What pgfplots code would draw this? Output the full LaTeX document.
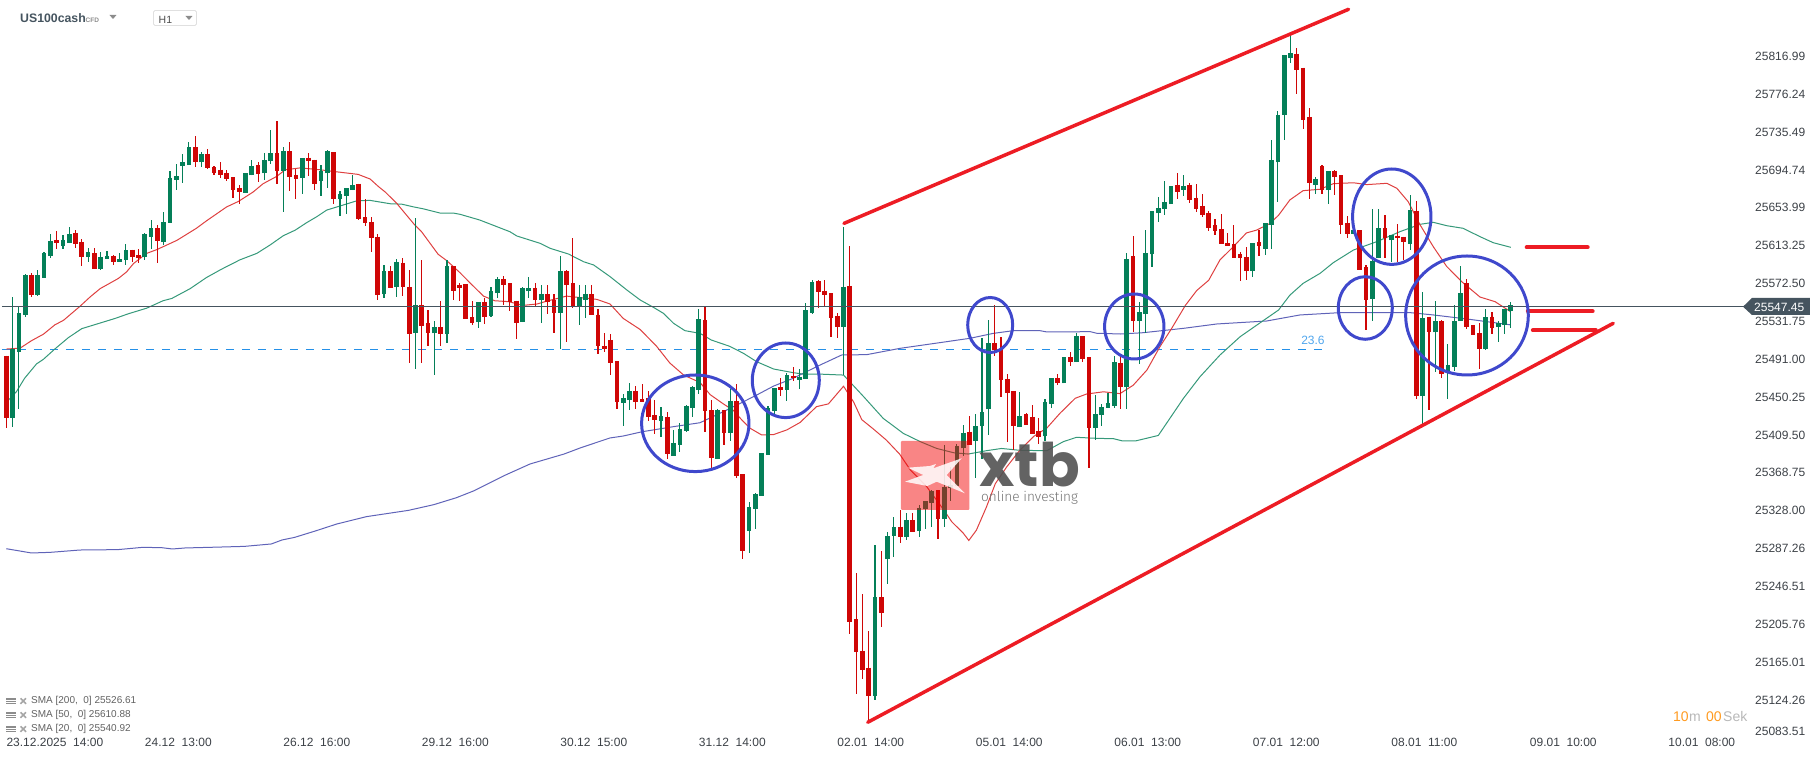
\documentclass[border=0pt]{standalone}
\usepackage{fontspec}
\setmainfont{Liberation Sans}
\usepackage{pgfplots}
\usepackage{pgfplotstable}
\pgfplotsset{compat=1.18}

\definecolor{cgreen}{HTML}{047F58}
\definecolor{cred}{HTML}{CF0606}
\definecolor{ma20}{HTML}{DE4040}
\definecolor{ma50}{HTML}{36997A}
\definecolor{ma200}{HTML}{5F63B8}
\definecolor{circ}{HTML}{3F48CC}
\definecolor{trend}{HTML}{ED1C24}
\definecolor{slate}{HTML}{45545F}
\definecolor{lbl}{HTML}{3C4147}
\definecolor{fib}{HTML}{2490E8}
\definecolor{timer}{HTML}{FF9A1F}

% i open high low close
\pgfplotstableread{
i o h l c
0 25495 25495 25417 25428
1 25428 25558 25418 25502
2 25499 25548 25437 25541
3 25539 25583 25536 25582
4 25582 25584 25558 25560
5 25560 25587 25559 25582
6 25579 25606 25579 25605
7 25602 25626 25600 25618
8 25619 25629 25610 25616
9 25613 25625 25610 25619
10 25616 25633 25616 25626
11 25627 25630 25611 25615
12 25617 25620 25591 25601
13 25601 25611 25596 25606
14 25605 25611 25588 25588
15 25588 25607 25587 25601
16 25599 25608 25599 25602
17 25602 25603 25593 25596
18 25596 25605 25596 25599
19 25598 25615 25592 25609
20 25609 25609 25596 25601
21 25603 25610 25595 25600
22 25601 25627 25598 25626
23 25623 25641 25610 25632
24 25632 25635 25595 25618
25 25617 25649 25614 25639
26 25638 25694 25638 25686
27 25684 25701 25673 25688
28 25699 25712 25681 25703
29 25700 25725 25700 25719
30 25719 25731 25698 25703
31 25703 25714 25698 25712
32 25712 25717 25696 25697
33 25698 25699 25689 25692
34 25695 25703 25686 25689
35 25691 25695 25683 25685
36 25687 25687 25665 25673
37 25675 25679 25658 25671
38 25670 25692 25670 25692
39 25689 25705 25689 25699
40 25700 25703 25682 25690
41 25691 25713 25684 25705
42 25704 25738 25701 25713
43 25713 25748 25680 25694
44 25694 25720 25649 25715
45 25715 25725 25672 25687
46 25689 25696 25663 25685
47 25686 25708 25669 25708
48 25708 25713 25688 25704
49 25706 25706 25673 25680
50 25683 25700 25667 25694
51 25691 25716 25675 25715
52 25714 25714 25658 25663
53 25663 25672 25645 25669
54 25667 25675 25647 25675
55 25673 25689 25673 25679
56 25680 25680 25641 25642
57 25644 25664 25634 25638
58 25639 25644 25607 25621
59 25623 25626 25555 25560
60 25561 25592 25557 25586
61 25586 25591 25568 25568
62 25569 25599 25558 25596
63 25595 25600 25559 25569
64 25569 25587 25487 25518
65 25519 25643 25481 25549
66 25549 25598 25487 25527
67 25530 25544 25505 25519
68 25519 25532 25474 25526
69 25526 25554 25505 25518
70 25518 25598 25508 25591
71 25591 25591 25555 25565
72 25571 25573 25554 25568
73 25572 25572 25534 25534
74 25536 25554 25528 25530
75 25531 25553 25525 25553
76 25553 25557 25529 25537
77 25538 25569 25536 25564
78 25562 25580 25557 25577
79 25577 25581 25549 25571
80 25573 25573 25543 25553
81 25554 25554 25513 25530
82 25531 25569 25531 25568
83 25564 25580 25557 25568
84 25568 25573 25548 25555
85 25555 25571 25530 25561
86 25561 25571 25540 25553
87 25555 25561 25519 25541
88 25541 25602 25502 25586
89 25586 25587 25510 25571
90 25573 25622 25546 25548
91 25548 25571 25528 25558
92 25555 25571 25535 25561
93 25561 25571 25539 25539
94 25539 25545 25497 25505
95 25505 25519 25499 25502
96 25512 25518 25474 25487
97 25489 25489 25437 25445
98 25444 25454 25419 25449
99 25447 25465 25436 25457
100 25457 25462 25437 25445
101 25448 25464 25445 25445
102 25449 25457 25425 25429
103 25431 25447 25411 25426
104 25425 25440 25407 25430
105 25429 25434 25384 25389
106 25387 25415 25387 25401
107 25399 25422 25391 25416
108 25414 25442 25413 25441
109 25439 25462 25429 25461
110 25458 25545 25454 25534
111 25533 25547 25413 25435
112 25436 25447 25374 25385
113 25384 25437 25384 25436
114 25436 25436 25399 25412
115 25412 25459 25403 25446
116 25446 25464 25363 25365
117 25367 25367 25276 25285
118 25306 25337 25283 25332
119 25330 25347 25308 25346
120 25344 25390 25344 25390
121 25388 25441 25388 25439
122 25435 25460 25432 25460
123 25461 25471 25451 25458
124 25458 25476 25446 25474
125 25473 25483 25468 25471
126 25469 25481 25459 25472
127 25470 25552 25470 25544
128 25541 25576 25540 25574
129 25575 25576 25546 25563
130 25565 25576 25548 25560
131 25562 25562 25515 25535
132 25538 25541 25514 25526
133 25526 25633 25474 25569
134 25570 25613 25195 25208
135 25211 25261 25131 25176
136 25177 25238 25147 25157
137 25159 25198 25100 25129
138 25129 25291 25124 25235
139 25235 25285 25203 25218
140 25276 25305 25249 25301
141 25301 25321 25278 25310
142 25311 25329 25293 25300
143 25300 25326 25296 25318
144 25318 25326 25305 25305
145 25306 25334 25300 25331
146 25330 25338 25308 25338
147 25336 25350 25311 25349
148 25350 25350 25298 25319
149 25319 25399 25311 25354
150 25352 25375 25338 25356
151 25355 25400 25355 25398
152 25395 25420 25387 25412
153 25413 25430 25399 25399
154 25403 25432 25363 25419
155 25419 25514 25384 25434
156 25437 25533 25409 25508
157 25508 25549 25495 25501
158 25502 25515 25450 25469
159 25470 25475 25402 25455
160 25457 25457 25393 25419
161 25418 25456 25418 25430
162 25432 25433 25420 25420
163 25429 25442 25411 25411
164 25414 25428 25400 25407
165 25408 25448 25403 25445
166 25443 25471 25439 25471
167 25471 25475 25463 25465
168 25465 25493 25465 25493
169 25493 25499 25484 25488
170 25488 25519 25488 25516
171 25516 25516 25488 25491
172 25493 25493 25374 25417
173 25417 25453 25404 25432
174 25431 25443 25419 25440
175 25439 25455 25439 25444
176 25441 25495 25439 25488
177 25487 25497 25437 25461
178 25461 25605 25438 25599
179 25602 25624 25520 25532
180 25532 25553 25486 25542
181 25540 25630 25519 25605
182 25604 25651 25590 25651
183 25648 25666 25639 25654
184 25653 25683 25646 25660
185 25658 25678 25658 25678
186 25679 25692 25664 25671
187 25673 25689 25667 25678
188 25679 25681 25659 25662
189 25665 25680 25650 25653
190 25656 25669 25644 25646
191 25648 25651 25629 25632
192 25635 25642 25625 25629
193 25631 25647 25615 25615
194 25616 25627 25613 25613
195 25615 25636 25600 25600
196 25604 25607 25575 25600
197 25601 25612 25576 25586
198 25586 25616 25580 25616
199 25617 25630 25602 25613
200 25610 25638 25603 25638
201 25636 25727 25610 25706
202 25703 25758 25660 25754
203 25754 25819 25727 25819
204 25815 25843 25810 25821
205 25820 25826 25776 25802
206 25805 25805 25739 25749
207 25752 25762 25664 25681
208 25679 25687 25669 25685
209 25699 25700 25669 25673
210 25673 25694 25658 25694
211 25694 25695 25668 25687
212 25689 25689 25626 25636
213 25638 25645 25621 25626
214 25626 25635 25626 25630
215 25630 25630 25587 25587
216 25590 25593 25523 25555
217 25556 25653 25532 25597
218 25600 25653 25600 25632
219 25632 25646 25600 25621
220 25619 25625 25596 25625
221 25624 25637 25596 25621
222 25623 25623 25598 25617
223 25615 25668 25609 25652
224 25651 25661 25448 25452
225 25452 25563 25421 25535
226 25537 25537 25436 25520
227 25520 25554 25477 25532
228 25532 25533 25471 25475
229 25478 25507 25448 25485
230 25483 25549 25478 25532
231 25532 25591 25532 25562
232 25573 25577 25524 25526
233 25528 25528 25517 25517
234 25519 25530 25480 25502
235 25502 25545 25501 25537
236 25537 25542 25518 25525
237 25526 25532 25510 25530
238 25528 25545 25518 25545
239 25543 25553 25525 25549
}\candles

\begin{document}
\begin{tikzpicture}
\begin{axis}[
    scale only axis,
    width=1815pt,
    height=761pt,
    xmin=-1.0008, xmax=287.32,
    ymin=25058.61, ymax=25877.72,
    scaled x ticks=false,
    scaled y ticks=false,
    axis line style={draw=none},
    tick style={draw=none},
    major tick length=0pt,
    xtick={0,22,44,66,88,110,132,154,176,198,220,242,264},
    xticklabels={23.12.2025\ \ 14:00,24.12\ \ 13:00,26.12\ \ 16:00,29.12\ \ 16:00,30.12\ \ 15:00,31.12\ \ 14:00,02.01\ \ 14:00,05.01\ \ 14:00,06.01\ \ 13:00,07.01\ \ 12:00,08.01\ \ 11:00,09.01\ \ 10:00,10.01\ \ 08:00},
    ytick={25816.99,25776.24,25735.49,25694.74,25653.99,25613.25,25572.50,25531.75,25491.00,25450.25,25409.50,25368.75,25328.00,25287.26,25246.51,25205.76,25165.01,25124.26,25090.1},
    yticklabels={25816.99,25776.24,25735.49,25694.74,25653.99,25613.25,25572.50,25531.75,25491.00,25450.25,25409.50,25368.75,25328.00,25287.26,25246.51,25205.76,25165.01,25124.26,25083.51},
    yticklabel pos=right,
    xticklabel style={anchor=north west,inner sep=0pt,yshift=23pt,xshift=0pt,font=\fontsize{12}{14}\selectfont,text=lbl},
    yticklabel style={anchor=west,inner sep=0pt,xshift=-60pt,font=\fontsize{12}{14}\selectfont,text=lbl},
]

% fibonacci level
\addplot[forget plot,fib,line width=1pt,dash pattern=on 8pt off 8pt] coordinates {(-0.7,25501.7) (209,25501.7)};

% SMA 200
\addplot[forget plot,ma200,line width=1pt] coordinates {
(0,25287.1)(4,25282.5)(7,25283.2)(11.7,25285.7)(17.7,25286.1)(21.7,25288.6)(24.7,25288.2)(26.4,25286.8)(28.4,25287.9)(32.4,25288.6)(37.8,25289.6)(42.1,25292.2)(43.8,25296.5)(45.8,25299.3)(49.1,25306.2)(52.5,25313.7)(57.2,25321.6)(63.9,25328.4)(67.9,25334.5)(71.5,25342)(74.2,25349.2)(79.2,25366.1)(83.2,25378.3)(88.6,25389)(91.3,25395.9)(95.9,25406.3)(98,25408.4)(101,25413)(106,25418.5)(110.2,25422.7)(113.9,25434.6)(116.6,25443.6)(119.2,25452.5)(121.9,25462.2)(125,25470.5)(128.7,25483)(132.7,25495.6)(136.7,25496)(142,25502.8)(148.3,25508.9)(153.1,25513.6)(156.8,25518.9)(160,25521.8)(164.2,25521.8)(165.3,25520.4)(172.2,25520.7)(173.2,25519)(177,25518.2)(180.6,25519.6)(187,25524.3)(192.3,25529)(200.2,25532.2)(205.5,25538.7)(211.9,25541.2)(223,25541.2)(226.7,25538.7)(232,25534.4)(239,25528)};

% SMA 50
\addplot[forget plot,ma50,line width=1pt] coordinates {
(0,25444.6)(1.6,25456)(2.9,25470.5)(4.8,25486)(5.9,25491)(7.7,25502)(9.9,25514.5)(12,25524)(14.9,25530)(17.3,25535)(19.4,25540)(22.3,25546)(24.9,25554)(26.3,25556.5)(29.2,25567)(31.8,25579)(34.2,25588)(37.1,25598)(39.8,25605)(41.9,25614)(44,25624)(45.9,25630)(47.7,25638)(49.3,25644.4)(50.9,25651.6)(53.5,25657)(55.7,25661.6)(57.8,25662)(61,25658.4)(62.8,25658)(64.7,25655)(66.2,25653)(68.9,25648.4)(71,25648.4)(72.1,25647)(75.2,25640.9)(80,25628.3)(81.1,25623.7)(84.8,25615.8)(86.4,25610.4)(89.3,25604.3)(91.7,25596)(93.3,25592.5)(95.9,25580)(98.5,25566)(100.7,25554.8)(102.8,25546.9)(104.4,25540.4)(106,25529.7)(107.8,25521.8)(110.2,25518.9)(112,25511.7)(114.9,25505)(117.1,25497.4)(119.2,25488.4)(121.9,25480.5)(125,25476.6)(126.6,25475)(129.3,25475)(133,25474)(136.2,25450.7)(139.3,25427.4)(142.5,25411.2)(145.2,25402.3)(147.8,25395)(150.5,25390.4)(152.8,25389)(155.7,25392.6)(158.1,25395)(161,25393)(165.3,25392.6)(167.9,25402.3)(170,25407)(173.2,25405.9)(175.9,25405.5)(177.2,25403.3)(179.5,25403.3)(183,25409)(187,25449)(189.6,25472)(192.8,25495.6)(196,25515.3)(199.2,25530.4)(202.1,25544)(203.9,25560)(206,25572.7)(208.7,25583.5)(210.8,25595)(214,25608.6)(217.7,25617.6)(221.4,25628.4)(224.6,25636.3)(226.7,25638.4)(228.8,25634.8)(231.4,25632)(234.1,25623)(236.2,25616.5)(239,25611.5)};

% SMA 20
\addplot[forget plot,ma20,line width=1pt] coordinates {
(0,25502)(2.2,25503)(4,25511)(5.9,25518)(7.7,25528)(9.1,25533)(11.7,25548)(13.3,25558)(14.9,25567)(17.8,25578)(19.1,25585)(20.2,25594)(22.3,25605)(23.9,25609)(27.1,25619)(30.2,25632)(31.8,25640)(35,25655)(36.9,25661)(39.2,25671)(40.8,25680)(43,25688)(44.3,25695)(46.7,25697)(49.8,25695)(52.2,25693)(55.9,25690)(57.8,25685)(59.1,25677)(60.2,25671)(62,25659)(64.7,25637)(66,25628)(67.3,25616)(68.6,25604)(70,25597)(72.1,25584)(73.7,25573)(75.8,25559)(77.6,25554)(79.8,25553)(82.1,25549)(84.3,25550.5)(86.1,25554)(89,25559)(91.7,25557)(93.8,25555.5)(95.9,25550.5)(98,25535)(100.7,25523)(103.3,25505)(105.4,25487)(107.6,25474)(110.2,25466)(111.8,25453)(113.9,25443)(115.5,25436)(116.8,25426)(118.1,25417)(120,25409.5)(121.9,25410)(124,25415)(126.1,25423)(128.7,25440)(130.6,25443)(133,25462)(134.6,25445)(135.9,25426)(137.8,25415.6)(139.8,25404)(141.9,25389)(143.6,25372)(146.2,25354)(148.9,25329)(150.2,25316)(152,25304)(152.9,25296)(154.1,25307)(155.7,25332)(157.1,25357)(158.9,25375)(161,25393)(163.2,25408)(165.3,25417)(167.4,25433)(169.8,25449)(171.6,25453.6)(174.3,25456)(176.9,25454)(179,25463)(181.2,25479.5)(183.3,25505)(185.1,25524)(187.3,25549)(189.1,25565)(191,25576)(192.8,25598)(194.9,25612)(197,25627)(198.6,25630)(200.7,25637)(202.1,25646)(203.9,25662.5)(206,25672.5)(208.7,25674)(210.8,25680)(214,25681)(216.1,25679)(219.3,25680.4)(220.9,25675)(222.7,25660.6)(224.6,25635.5)(226.7,25612)(228.8,25591)(231.2,25574.5)(234.1,25558)(236.5,25553)(239,25542)};

% wicks
\addplot[forget plot,draw=none,no markers,
    error bars/.cd,y dir=both,y explicit,error mark=none,
    error bar style={line width=1.15pt,draw=cgreen}]
  table[x=i,y=o,
    y error plus expr={\thisrow{c}>=\thisrow{o} ? \thisrow{h}-\thisrow{o} : 0},
    y error minus expr={\thisrow{c}>=\thisrow{o} ? \thisrow{o}-\thisrow{l} : 0}] {\candles};
\addplot[forget plot,draw=none,no markers,
    error bars/.cd,y dir=both,y explicit,error mark=none,
    error bar style={line width=1.15pt,draw=cred}]
  table[x=i,y=o,
    y error plus expr={\thisrow{c}<\thisrow{o} ? \thisrow{h}-\thisrow{o} : 0},
    y error minus expr={\thisrow{c}<\thisrow{o} ? \thisrow{o}-\thisrow{l} : 0}] {\candles};
% bodies
\addplot[forget plot,draw=none,no markers,
    error bars/.cd,y dir=plus,y explicit,error mark=none,
    error bar style={line width=4.7pt,draw=cgreen}]
  table[x=i,y=o,
    y error plus expr={\thisrow{c}>=\thisrow{o} ? \thisrow{c}-\thisrow{o} : 0}] {\candles};
\addplot[forget plot,draw=none,no markers,
    error bars/.cd,y dir=minus,y explicit,error mark=none,
    error bar style={line width=4.7pt,draw=cred}]
  table[x=i,y=o,
    y error minus expr={\thisrow{c}<\thisrow{o} ? \thisrow{o}-\thisrow{c} : 0}] {\candles};

% current price
\addplot[forget plot,slate,line width=1pt] coordinates {(-0.7,25547.45) (276,25547.45)};

% hand drawn trend lines
\addplot[forget plot,trend,line width=3.5pt,line cap=round] coordinates {(133.06,25637.25) (213.22,25867.7)};
\addplot[forget plot,trend,line width=3.5pt,line cap=round] coordinates {(136.84,25100.26) (255.27,25529.7)};
\addplot[forget plot,trend,line width=4pt,line cap=round] coordinates {(241.52,25611.55) (251.21,25611.55)};
\addplot[forget plot,trend,line width=4pt,line cap=round] coordinates {(241.7,25542.64) (252,25542.64)};
\addplot[forget plot,trend,line width=4pt,line cap=round] coordinates {(242.5,25522.2) (252.5,25522.2)};
\end{axis}

% page furniture, in reference pixels from the top left
\begin{scope}[x=1pt,y=-1pt,shift={(0pt,761pt)}]
  \begin{scope}[circ,line width=3pt]
    \draw (695.3,423.3) ellipse [x radius=53.7,y radius=48.3];
    \draw (785.8,380.3) ellipse [x radius=33.5,y radius=37.3];
    \draw (990.2,325) ellipse [x radius=22.5,y radius=27.5];
    \draw (1134.3,326.5) ellipse [x radius=29.7,y radius=32.5];
    \draw (1391.8,216.7) ellipse [x radius=39.2,y radius=47.7];
    \draw (1365.3,308) ellipse [x radius=27,y radius=31.3];
    \draw (1467,315.5) ellipse [x radius=61.3,y radius=59.5];
  \end{scope}

  % watermark
  \fill[red!95!black,opacity=0.48,rounded corners=1pt] (901,441) rectangle (969.3,510);
  \fill[white,opacity=0.85] (908,467.7)--(930,466)--(936,464)--(933.3,468.3)--(961.7,458.3)--(946.7,475)--(965,493.3)--(936.7,481.7)--(927.3,486)--(905,481.7)--(923.3,475)--cycle;
  \node[anchor=base west,inner sep=0pt,text depth=0pt,text=black!68,opacity=0.9] at (979.5,486.7) {\fontspec{Poppins}\bfseries\fontsize{60}{62}\selectfont xtb};
  \node[anchor=base west,inner sep=0pt,text=black!55] at (981,502) {\fontspec{Fira Sans Light}\fontsize{13.6}{15}\selectfont online investing};

  % header
  \node[anchor=base west,inner sep=0pt,text=slate] at (20,23) {\fontsize{12.3}{15}\selectfont\bfseries US100cash};
  \node[anchor=base west,inner sep=0pt,text=black!45] at (85.5,22.5) {\fontsize{6.5}{8}\selectfont\bfseries CFD};
  \fill[black!45] (109.5,15) -- (116.5,15) -- (113,19) -- cycle;
  \draw[black!12,line width=0.8pt,rounded corners=1.5pt] (153.5,10.5) rectangle (196.5,25.5);
  \node[anchor=base west,inner sep=0pt,text=black!70] at (158.5,23.5) {\fontsize{10.5}{12}\selectfont H1};
  \fill[black!45] (185.5,16) -- (192.5,16) -- (189,20) -- cycle;

  % indicator legend
  \foreach \yy/\tx in {701.3/{SMA [200,\ \ 0] 25526.61},715.3/{SMA [50,\ \ 0] 25610.88},729.3/{SMA [20,\ \ 0] 25540.92}}{
    \fill[black!45] (6,\yy-3.5) rectangle (16,\yy-1);
    \fill[black!45] (6,\yy) rectangle (16,\yy+1);
    \fill[black!45] (6,\yy+2) rectangle (16,\yy+3);
    \draw[black!35,line width=1.6pt] (20.5,\yy-3) -- (26,\yy+2.5) (26,\yy-3) -- (20.5,\yy+2.5);
    \node[anchor=west,inner sep=0pt,text=black!62] at (31,\yy) {\fontsize{10}{12}\selectfont\tx};
  }

  % countdown
  \node[anchor=base west,inner sep=0pt,text=timer] at (1673,721.5) {\fontsize{14}{16}\selectfont 10};
  \node[anchor=base west,inner sep=0pt,text=black!28] at (1689,721.5) {\fontsize{14}{16}\selectfont m};
  \node[anchor=base west,inner sep=0pt,text=timer] at (1706,721.5) {\fontsize{14}{16}\selectfont 00};
  \node[anchor=base west,inner sep=0pt,text=black!28] at (1723,721.5) {\fontsize{14}{16}\selectfont Sek};

  % price tag
  \fill[slate] (1743,306.7) -- (1752,298) -- (1810,298) -- (1810,315) -- (1752,315) -- cycle;
  \node[anchor=west,inner sep=0pt,text=white] at (1754,307) {\fontsize{12}{14}\selectfont 25547.45};

  % fibonacci label
  \node[inner sep=0pt,text=fib!80] at (1313,340.7) {\fontsize{12}{14}\selectfont 23.6};
\end{scope}
\end{tikzpicture}
\end{document}
